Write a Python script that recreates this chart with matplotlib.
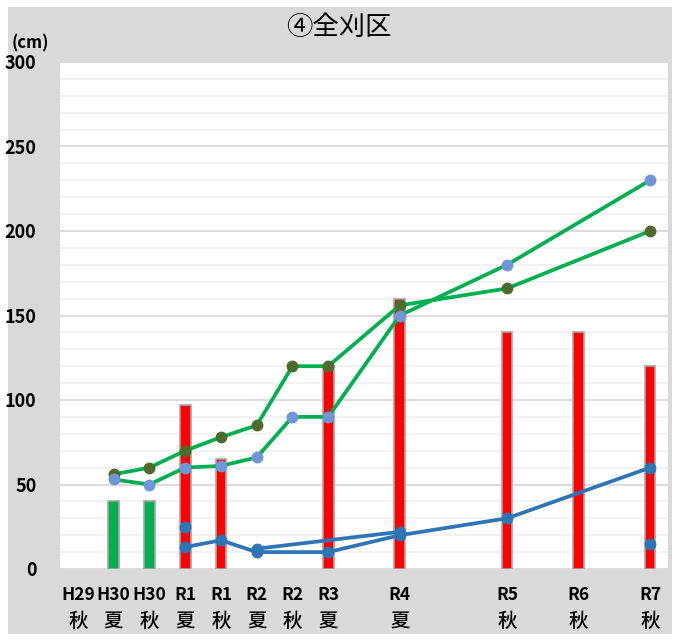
import matplotlib

matplotlib.use("Agg")
import matplotlib.pyplot as plt
import numpy as np
from matplotlib.patches import Rectangle

plt.rcParams["font.family"] = ["Noto Sans CJK JP", "DejaVu Sans"]

# ---------------------------------------------------------------- data
X_POS = [0, 1, 2, 3, 4, 5, 6, 7, 9, 12, 14, 16]
YEAR_LABELS = ["H29", "H30", "H30", "R1", "R1", "R2", "R2", "R3", "R4", "R5", "R6", "R7"]
SEASON_LABELS = ["秋", "夏", "秋", "夏", "秋", "夏", "秋", "夏", "夏", "秋", "秋", "秋"]

nan = np.nan
GREEN_BARS = [nan, 40, 40, nan, nan, nan, nan, nan, nan, nan, nan, nan]
RED_BARS = [nan, nan, nan, 97, 65, nan, nan, 120, 160, 140, 140, 120]

GREEN_A = [nan, 56, 60, 70, 78, 85, 120, 120, 156, 166, nan, 200]
GREEN_B = [nan, 53, 50, 60, 61, 66, 90, 90, 150, 180, nan, 230]
BLUE_A = [nan, nan, nan, 13, 17, 10, nan, 10, 20, 30, nan, 60]
BLUE_B = [nan, nan, nan, nan, nan, 12, nan, nan, 22, nan, nan, nan]
BLUE_PTS = [nan, nan, nan, 25, nan, nan, nan, nan, nan, nan, nan, 15]

LINE_GREEN = "#00b050"
DARK_MARK = "#4f6b2b"
LIGHT_MARK = "#7196d8"
BLUE = "#2e75b6"
PANEL = "#d9d9d9"


def _valid(vals):
    x = np.array(X_POS, dtype=float)
    y = np.array(vals, dtype=float)
    keep = ~np.isnan(y)
    return x[keep], y[keep]


fig = plt.figure(figsize=(6.78, 6.39), dpi=100, facecolor="white")
fig.patches.append(Rectangle((8 / 678, 5 / 639), 664 / 678, 627 / 639,
                             transform=fig.transFigure, facecolor=PANEL,
                             edgecolor="none", zorder=-10))
ax = fig.add_axes([60 / 678, 1 - 569 / 639, 608 / 678, 507 / 639])
ax.set_facecolor("white")

ax.set_ylim(0, 300)
ax.set_xlim(-0.5, 16.5)
ax.set_yticks(np.arange(0, 301, 50))
ax.set_yticks(np.arange(0, 301, 10), minor=True)
ax.grid(True, which="major", axis="y", color="#d9d9d9", linewidth=1.3)
ax.grid(True, which="minor", axis="y", color="#efefef", linewidth=1.1)
ax.set_axisbelow(True)
for s in ax.spines.values():
    s.set_visible(False)

# bars
bx, bh = _valid(GREEN_BARS)
ax.bar(bx, bh, width=0.3, color=LINE_GREEN, edgecolor="#a6a6a6", linewidth=1.2, zorder=2)
bx, bh = _valid(RED_BARS)
ax.bar(bx, bh, width=0.3, color="#ff0000", edgecolor="#a6a6a6", linewidth=1.2, zorder=2)

# lines
for vals, mc in ((GREEN_A, DARK_MARK), (GREEN_B, LIGHT_MARK)):
    lx, ly = _valid(vals)
    ax.plot(lx, ly, color=LINE_GREEN, linewidth=2.7, marker="o", markersize=7.5,
            markerfacecolor=mc, markeredgecolor=mc, zorder=3)
for vals in (BLUE_A, BLUE_B):
    lx, ly = _valid(vals)
    ax.plot(lx, ly, color=BLUE, linewidth=2.7, marker="o", markersize=7.5,
            markerfacecolor=BLUE, markeredgecolor=BLUE, zorder=3)
lx, ly = _valid(BLUE_PTS)
ax.plot(lx, ly, linestyle="none", marker="o", markersize=7.5,
        markerfacecolor=BLUE, markeredgecolor=BLUE, zorder=3)

# ticks
ax.tick_params(axis="both", which="both", length=0)
ax.tick_params(axis="y", pad=17, labelsize=13)
for t in ax.get_yticklabels():
    t.set_fontweight("bold")
ax.set_xticks(X_POS)
ax.set_xticklabels([])
for x, yr, ss in zip(X_POS, YEAR_LABELS, SEASON_LABELS):
    ax.annotate(yr, xy=(x, 0), xycoords=("data", "axes fraction"),
                xytext=(0, -18.5), textcoords="offset points",
                ha="center", va="center", fontsize=12.5, fontweight="bold")
    ax.annotate(ss, xy=(x, 0), xycoords=("data", "axes fraction"),
                xytext=(0, -37.5), textcoords="offset points",
                ha="center", va="center", fontsize=14, fontweight="medium")

fig.text(339 / 678, 1 - 27 / 639, "④全刈区", ha="center", va="center",
         fontsize=19)
fig.text(12 / 678, 1 - 43 / 639, "(cm)", ha="left", va="center",
         fontsize=12, fontweight="bold")

fig.savefig("out.png", dpi=100, facecolor="white")
